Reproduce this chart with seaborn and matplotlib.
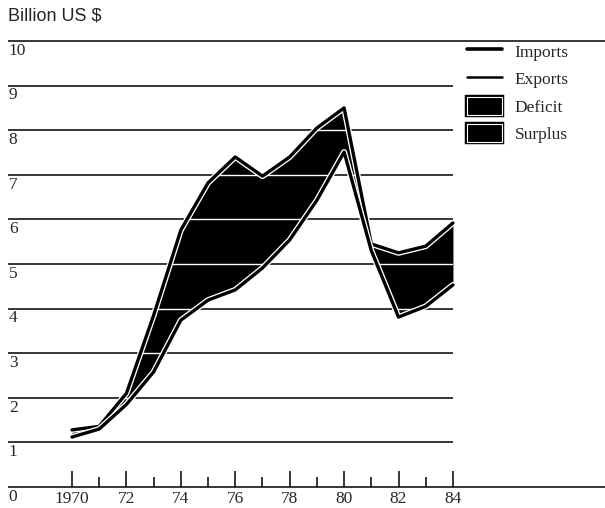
import numpy as np
import pandas as pd
import seaborn as sns
from matplotlib import pyplot as plt
from matplotlib import patheffects as pe
from matplotlib.lines import Line2D
from matplotlib.patches import Patch

px = 1/100

years = list(range(1970, 1985))
imports = [1.28, 1.36, 2.1, 3.85, 5.76, 6.82, 7.4, 6.97, 7.4, 8.05, 8.5, 5.45, 5.25, 5.4, 5.92]
exports = [1.12, 1.3, 1.85, 2.58, 3.74, 4.19, 4.42, 4.91, 5.54, 6.43, 7.51, 5.3, 3.81, 4.05, 4.53]
y_ticks = list(range(0, 11))
x_labels = ['1970', '72', '74', '76', '78', '80', '82', '84']

data = pd.DataFrame({'year': years * 2,
                     'value': imports + exports,
                     'series': ['Imports'] * len(years) + ['Exports'] * len(years)})

sns.set_style("white")
plt.rcParams['font.family'] = ['Liberation Serif', 'DejaVu Serif']

fig = plt.figure(figsize=(605*px, 508*px), dpi=100)
ax = fig.add_axes([0, 0, 1, 1])
x0, x1 = 1970 - 72/27.21, 1970 + 533/27.21
gx = 1970 - 64/27.21   # where the rules start
y0, y1 = -21/44.6, 10 + 41/44.6
ax.axis('off')

# gridlines
ax.hlines(range(1, 10), gx, 1984, color='black', lw=1.1, zorder=1)
ax.hlines([0, 10], gx, x1, color='black', lw=1.1, zorder=1)

# fill between the two series
poly = ax.fill_between(years, imports, exports, color='black', lw=0, zorder=2)
wl = ax.hlines(range(1, 10), gx, 1984, color='white', lw=1.0, zorder=3)
wl.set_clip_path(poly.get_paths()[0], ax.transData)

g = sns.lineplot(data=data, x='year', y='value', hue='series',
                 palette={'Imports': 'black', 'Exports': 'black'},
                 lw=2.4, legend=False, ax=ax, zorder=4)
for ln in ax.get_lines():
    ln.set_path_effects([pe.Stroke(linewidth=4.3, foreground='white'), pe.Normal()])

# x ticks along the baseline
for yr in years:
    h = 0.36 if yr % 2 == 0 else 0.22
    ax.vlines(yr, 0, h, color='black', lw=1.1, zorder=1)
for yr, lab in zip(range(1970, 1985, 2), x_labels):
    ax.text(yr, -0.1, lab, ha='center', va='top', fontsize=12.5)

# y labels hanging under each gridline
for v in y_ticks:
    ax.text(gx + 0.03, v - 0.04, str(v), ha='left', va='top', fontsize=12.5)

ax.set_xlim(x0, x1)
ax.set_ylim(y0, y1)

fig.text(8/605, 1 - 8/508, 'Billion US $', ha='left', va='top', fontsize=13,
         family=['Liberation Sans', 'DejaVu Sans'])

box_fx = [pe.Stroke(linewidth=3.2, foreground='black'), pe.Normal()]
handles = [Line2D([], [], color='black', lw=2.6),
           Line2D([], [], color='black', lw=1.8),
           Patch(facecolor='black', edgecolor='white', lw=0.8, path_effects=box_fx),
           Patch(facecolor='black', edgecolor='white', lw=0.8, path_effects=box_fx)]
leg = ax.legend(handles, ['Imports', 'Exports', 'Deficit', 'Surplus'],
                loc='upper left', bbox_to_anchor=(460/605, 1 - 35/508),
                frameon=False, fontsize=12.5, handlelength=2.0, handleheight=1.2,
                handletextpad=0.75, labelspacing=0.5, borderaxespad=0)

plt.savefig('out.png', dpi=100)
